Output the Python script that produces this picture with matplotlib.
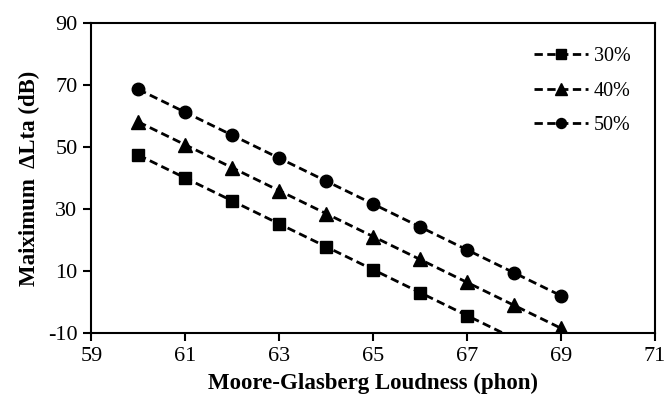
import matplotlib
matplotlib.use("Agg")
import matplotlib.pyplot as plt

plt.rcParams['font.family'] = ['Liberation Serif', 'DejaVu Serif']
plt.rcParams['axes.unicode_minus'] = False

loudness = [60, 61, 62, 63, 64, 65, 66, 67, 68, 69]
s30 = [47.4, 40.0, 32.6, 25.2, 17.8, 10.4, 3.0, -4.4, -11.8, -19.2]
s40 = [58.1, 50.7, 43.3, 35.9, 28.5, 21.1, 13.7, 6.3, -1.1, -8.5]
s50 = [68.6, 61.2, 53.8, 46.4, 39.0, 31.6, 24.2, 16.8, 9.4, 2.0]
labels = ['30%', '40%', '50%']
markers = ['s', '^', 'o']

YMIN, YMAX = -10, 90

fig = plt.figure(figsize=(6.67, 4.05), dpi=100)
ax = fig.add_axes([0.137, 0.178, 0.845, 0.765])

for ys, lab, m in zip([s30, s40, s50], labels, markers):
    visible = [i for i, v in enumerate(ys) if v >= YMIN]
    ax.plot(loudness, ys, linestyle=(0, (3, 1.6)), color='black', linewidth=2,
            marker=m, markersize=9 if m != '^' else 10, markerfacecolor='black',
            markeredgecolor='black', label=lab, markevery=visible)

ax.set_xlim(59, 71)
ax.set_ylim(YMIN, YMAX)
ax.set_xticks([59, 61, 63, 65, 67, 69, 71])
ax.set_yticks([-10, 10, 30, 50, 70, 90])
ax.tick_params(direction='out', length=6, width=1.5, labelsize=16, pad=4)
for s in ax.spines.values():
    s.set_linewidth(1.5)

ax.set_xlabel('Moore-Glasberg Loudness (phon)', fontsize=16.5, fontweight='bold', labelpad=5)
ax.set_ylabel('Maiximum  ΔLta (dB)', fontsize=16.5, fontweight='bold', labelpad=6)

leg = ax.legend(loc='upper right', frameon=False, fontsize=14.5, handlelength=2.7,
                borderaxespad=0.8, labelspacing=0.75, handletextpad=0.3,
                markerscale=0.8)

fig.savefig('out.png', dpi=100)
